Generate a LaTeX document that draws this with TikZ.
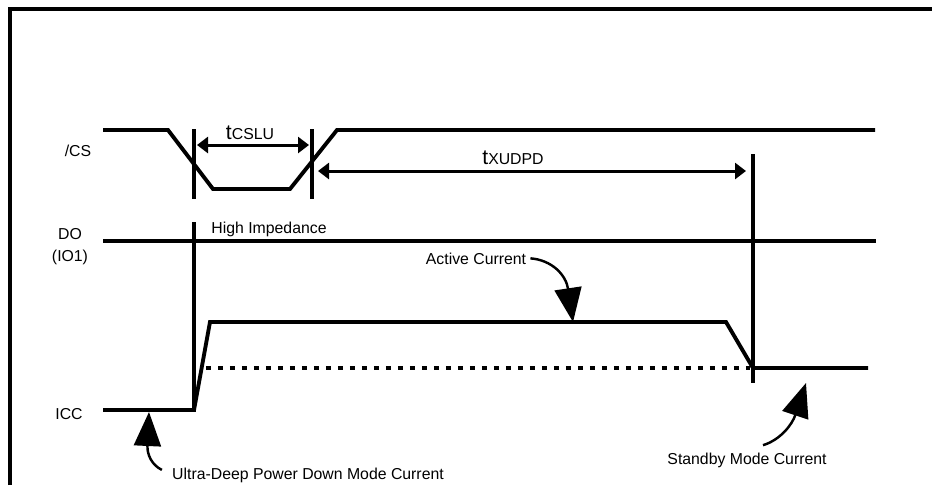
\documentclass[tikz,border=0pt]{standalone}
\usepackage{fontspec}
\setmainfont{Liberation Sans}
\usetikzlibrary{arrows.meta, positioning}
\tikzset{
  frameline/.style={line width=2.3pt},
  sigline/.style={line width=2.2pt, line join=miter},
  tickline/.style={line width=1.9pt},
  dotline/.style={line width=1.9pt, dash pattern=on 0.1cm off 0.14cm},
  dimarrow/.style={{Triangle[length=0.22cm,width=0.32cm]}-{Triangle[length=0.22cm,width=0.32cm]}, line width=1.7pt},
  callout/.style={-{Triangle[length=0.68cm,width=0.54cm]}, line width=1.4pt},
  sigtext/.style={font=\fontsize{9}{12.5}\selectfont, align=center, inner sep=0pt},
  timetext/.style={font=\fontsize{12}{14}\selectfont, inner sep=0pt, anchor=base}
}
\newcommand{\subcaps}[1]{{\fontsize{9}{10}\selectfont #1}}

\begin{document}
\begin{tikzpicture}[x=0.02cm, y=-0.02cm]
  \useasboundingbox (0,0) rectangle (932,485);

  % Frame
  \draw[frameline] (10,485) -- (10,9) -- (932,9);

  % Signal names
  \node[sigtext, anchor=base] (csname) at (78,156) {/CS};
  \node[sigtext] (doname) at (70,247) {DO\\(IO1)};
  \node[sigtext, anchor=base] (iccname) at (69,419) {ICC};

  % /CS waveform
  \draw[sigline] (103,130) -- (168,130) -- (213,189) -- (290,189) -- (337,130) -- (875,130);

  % DO waveform
  \draw[sigline] (103,241) -- (876,241);

  % ICC waveform
  \draw[dotline] (206,368) -- (750,368);
  \draw[sigline] (103,410) -- (194,410) -- (210,322) -- (726,322) -- (753,368) -- (868,368);

  % Timing markers
  \coordinate (mkA) at (194,145);
  \coordinate (mkB) at (312,145);
  \coordinate (mkC) at (312,171);
  \coordinate (mkD) at (753,171);
  \draw[tickline] (194,129) -- (194,199);
  \draw[tickline] (312,129) -- (312,199);
  \draw[tickline] (194,222) -- (194,412);
  \draw[tickline] (753,154) -- (753,383);

  % Timing arrows
  \draw[dimarrow, shorten <=0.06cm, shorten >=0.06cm] (mkA) -- (mkB);
  \draw[dimarrow, shorten <=0.12cm, shorten >=0.14cm] (mkC) -- (mkD);
  \node[timetext] (tcslu) at (250,139) {t\subcaps{CSLU}};
  \node[timetext] (txudpd) at (513,164) {t\subcaps{XUDPD}};

  % Texts
  \node[sigtext, anchor=base] (hiz) at (269,233) {High Impedance};
  \node[sigtext, anchor=base] (act) at (476,264) {Active Current};
  \node[sigtext, anchor=base] (udpd) at (308,479) {Ultra-Deep Power Down Mode Current};
  \node[sigtext, anchor=base] (stby) at (747,464) {Standby Mode Current};

  % Callouts
  \coordinate (acttip) at (573,322);
  \coordinate (udtip) at (149,412);
  \coordinate (sbtip) at (806,383);
  \draw[callout] ([xshift=0.08cm]act.east) .. controls (552,260) and (566,275) .. (acttip);
  \draw[callout] ([shift={(-0.2cm,0.1cm)}]udpd.west) .. controls (152,465) and (147,455) .. (udtip);
  \draw[callout] ([shift={(0.32cm,0.14cm)}]stby.north) .. controls (780,440) and (792,425) .. (sbtip);
\end{tikzpicture}
\end{document}
